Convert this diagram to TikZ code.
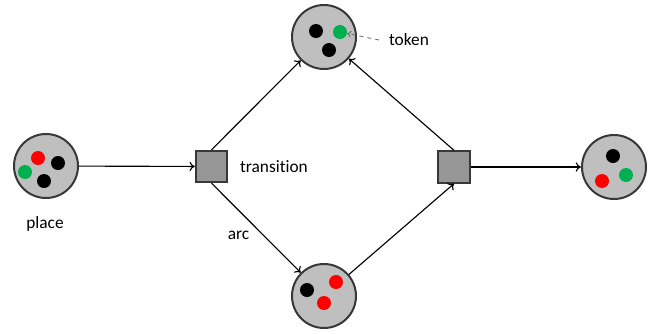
\documentclass[tikz,border=0pt]{standalone}
\usepackage{fontspec}
\setmainfont{Carlito}[Ligatures=NoCommon]
\usetikzlibrary{arrows.meta}
\definecolor{placefill}{RGB}{191,191,191}
\definecolor{transfill}{RGB}{150,150,150}
\definecolor{rimline}{RGB}{56,56,56}
\definecolor{tokgreen}{RGB}{0,176,80}
\definecolor{tokred}{RGB}{255,0,0}
\tikzset{
    place/.style={circle, draw=rimline, fill=placefill, line width=1.5pt, minimum size=48pt, inner sep=0pt},
    trans/.style={rectangle, draw=rimline, fill=transfill, line width=1.5pt, minimum size=23.5pt, inner sep=0pt},
    tok/.style={circle, fill=#1, minimum size=10.5pt, inner sep=0pt},
    flow/.style={-{To[length=4pt,width=7pt]}, line width=0.85pt},
    hint/.style={-{To[length=3pt,width=5pt]}, dashed, black!60, line width=0.6pt}
}

\begin{document}
\begin{tikzpicture}[x=0.75pt, y=-0.75pt, font=\fontsize{13}{15}\selectfont]
        \useasboundingbox (0,0) rectangle (651,333);
        % Places
        \node[place] (pin)  at (46,166) {};
        \node[place] (ptop) at (324,37) {};
        \node[place] (pbot) at (324,296) {};
        \node[place] (pout) at (614,167) {};
        % Transitions
        \node[trans] (t1) at (211.5,166.5) {};
        \node[trans] (t2) at (454,167) {};
        % Tokens
        \node[tok=tokred]   (pin-1) at (38,158) {};
        \node[tok=black]    (pin-2) at (58,163) {};
        \node[tok=tokgreen] (pin-3) at (25,172) {};
        \node[tok=black]    (pin-4) at (44,181) {};
        \node[tok=black]    (ptop-1) at (316,31) {};
        \node[tok=tokgreen] (ptop-2) at (340,32) {};
        \node[tok=black]    (ptop-3) at (329,50) {};
        \node[tok=black]    (pbot-1) at (307,290) {};
        \node[tok=tokred]   (pbot-2) at (336,282) {};
        \node[tok=tokred]   (pbot-3) at (324,303) {};
        \node[tok=black]    (pout-1) at (613,156) {};
        \node[tok=tokred]   (pout-2) at (602,181) {};
        \node[tok=tokgreen] (pout-3) at (626,175) {};
        % Arcs
        \draw[flow] (pin) -- (t1);
        \draw[flow] (t1.north) -- (ptop);
        \draw[flow] (t1.south) -- (pbot);
        \draw[flow] (pbot) -- (t2.south);
        \draw[flow] (t2.north) -- (ptop);
        \draw[flow] (t2) -- (pout);
        % Labels
        \node (lplace) at (45,224) {place};
        \node (ltrans) at (274,167) {transition};
        \node (larc) at (238.5,235) {arc};
        \node (ltok) at (409,40) {token};
        \draw[hint] ([xshift=-4pt]ltok.west) -- (ptop-2);
    \end{tikzpicture}
\end{document}
